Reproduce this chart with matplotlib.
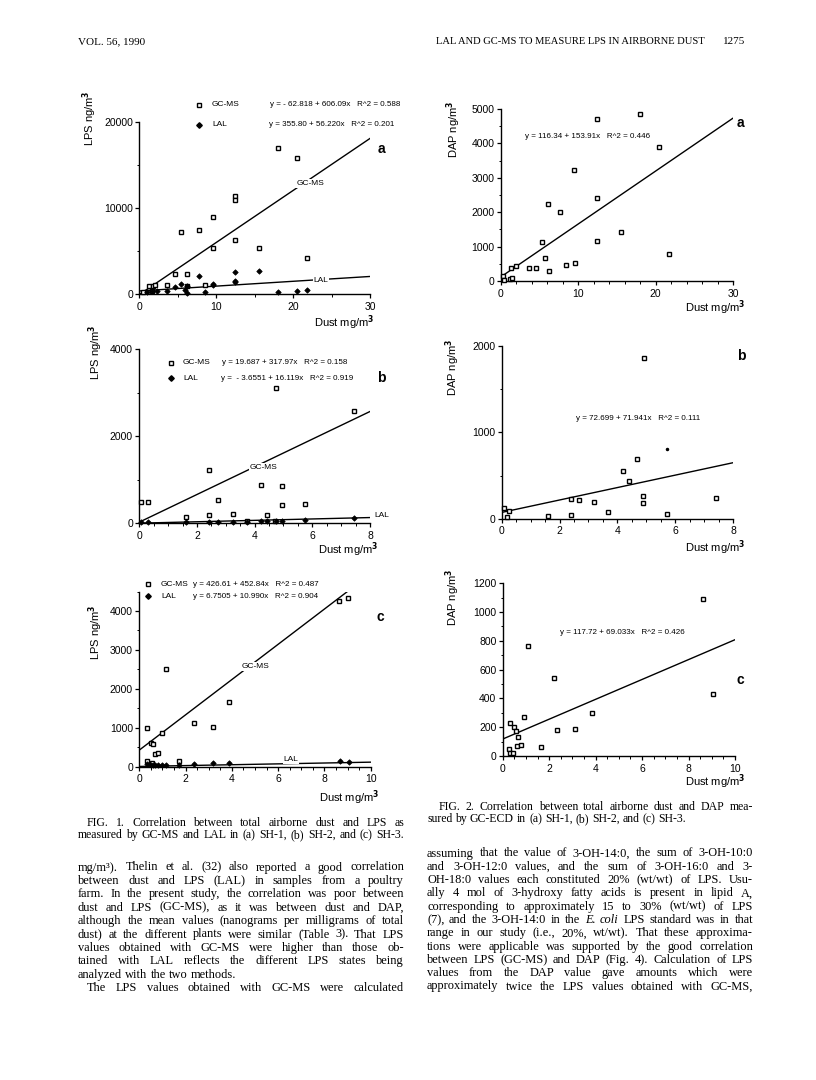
import matplotlib
matplotlib.use("Agg")
import matplotlib.pyplot as plt
import numpy as np
from matplotlib.font_manager import FontProperties
from matplotlib.lines import Line2D
from matplotlib.ticker import MultipleLocator

W, H = 816, 1080
SANS = "Liberation Sans"
SERIF = "Liberation Serif"

# ---------------- data ----------------
# Fig. 1a  SH-1, LPS (ng/m3) vs dust (mg/m3)
dust_1a_gcms = [18.1, 20.5, 12.4, 12.5, 9.6, 7.8, 5.4, 12.4, 9.6, 15.6, 21.8, 4.6, 6.2,
                8.5, 3.6, 1.3, 1.8, 2.0, 0.5, 1.6, 6.2]
lps_1a_gcms = [17050, 15890, 11360, 10970, 8950, 7480, 7210, 6280, 5310, 5350, 4150, 2330, 2330,
               1010, 1010, 890, 890, 1000, 270, 300, 890]
dust_1a_lal = [18.1, 20.5, 21.8, 15.6, 12.5, 12.4, 12.5, 7.7, 9.6, 9.6, 5.4, 4.6, 6.2,
               3.6, 8.5, 5.9, 6.2, 1.0, 1.6, 2.3]
lps_1a_lal = [270, 350, 430, 2640, 2560, 1470, 1360, 2050, 1200, 1000, 1200, 810, 970,
              390, 190, 500, 120, 230, 390, 310]
fit_1a_gcms = (-62.818, 606.09)
fit_1a_lal = (355.80, 56.220)

# Fig. 1b  SH-2
dust_1b_gcms = [4.73, 7.45, 2.42, 4.23, 4.94, 2.72, 0.06, 0.29, 4.94, 5.75, 1.62, 2.42, 3.24,
                4.44, 3.72, 4.70]
lps_1b_gcms = [3097, 2585, 1216, 880, 841, 520, 474, 490, 405, 436, 138, 176, 214,
               176, 46, 54]
dust_1b_lal = [7.45, 5.75, 4.94, 4.44, 4.23, 4.73, 3.72, 3.24, 2.72, 2.42, 1.62, 0.06, 0.29]
lps_1b_lal = [107, 76, 38, 38, 54, 54, 31, 23, 23, 23, 23, 15, 23]
fit_1b_gcms = (19.687, 317.97)
fit_1b_lal = (-3.6551, 16.119)

# Fig. 1c  SH-3
dust_1c_gcms = [9.03, 8.65, 1.15, 3.89, 2.38, 3.17, 0.35, 0.98, 0.49, 0.61, 0.69, 0.82,
                0.32, 1.70, 0.53]
lps_1c_gcms = [4342, 4257, 2501, 1653, 1131, 1028, 985, 874, 617, 574, 317, 343,
               154, 137, 86]
dust_1c_lal = [8.67, 9.08, 3.89, 3.17, 2.38, 1.70, 0.32, 0.49, 0.61, 0.82, 0.98, 1.15, 0.69]
lps_1c_lal = [146, 128, 103, 86, 69, 51, 69, 45, 45, 40, 40, 40, 35]
fit_1c_gcms = (426.61, 452.84)
fit_1c_lal = (6.7505, 10.990)

# Fig. 2a-c  DAP (ng/m3) vs dust (mg/m3)
dust_2a = [17.96, 12.38, 20.41, 9.50, 12.38, 6.06, 7.65, 15.6, 5.37, 12.38, 21.79, 5.76,
           9.58, 8.47, 2.02, 1.29, 3.61, 4.60, 6.27, 0.34, 0.43, 1.2, 1.5]
dap_2a = [4855, 4700, 3907, 3240, 2427, 2244, 1992, 1431, 1122, 1170, 783, 658,
          532, 464, 445, 368, 368, 387, 290, 135, 39, 68, 97]
fit_2a = (116.34, 153.91)

dust_2b = [4.92, 4.68, 4.18, 4.40, 4.89, 4.89, 7.40, 2.38, 2.68, 3.19, 3.67, 5.70,
           1.59, 2.39, 0.08, 0.25, 0.17]
dap_2b = [1857, 691, 556, 440, 266, 178, 243, 228, 212, 189, 73, 58,
          31, 39, 120, 89, 15]
dust_2b_dot = [5.70]
dap_2b_dot = [803]
fit_2b = (72.699, 71.941)

dust_2c = [8.64, 9.04, 1.10, 2.22, 3.83, 0.93, 3.13, 2.35, 0.32, 0.49, 0.57, 0.65,
           0.63, 0.77, 1.65, 0.27, 0.32, 0.43]
dap_2c = [1091, 429, 764, 544, 299, 269, 188, 181, 227, 199, 176, 134,
          70, 76, 65, 46, 23, 23]
fit_2c = (117.72, 69.033)

caption_1 = [
    "FIG. 1. Correlation between total airborne dust and LPS as",
    "measured by GC-MS and LAL in (a) SH-1, (b) SH-2, and (c) SH-3.",
]
body_left = [
    "mg/m³). Thelin et al. (32) also reported a good correlation",
    "between dust and LPS (LAL) in samples from a poultry",
    "farm. In the present study, the correlation was poor between",
    "dust and LPS (GC-MS), as it was between dust and DAP,",
    "although the mean values (nanograms per milligrams of total",
    "dust) at the different plants were similar (Table 3). That LPS",
    "values obtained with GC-MS were higher than those ob-",
    "tained with LAL reflects the different LPS states being",
    "analyzed with the two methods.",
    "The LPS values obtained with GC-MS were calculated",
]
caption_2 = [
    "FIG. 2. Correlation between total airborne dust and DAP mea-",
    "sured by GC-ECD in (a) SH-1, (b) SH-2, and (c) SH-3.",
]
body_right = [
    "assuming that the value of 3-OH-14:0, the sum of 3-OH-10:0",
    "and 3-OH-12:0 values, and the sum of 3-OH-16:0 and 3-",
    "OH-18:0 values each constituted 20% (wt/wt) of LPS. Usu-",
    "ally 4 mol of 3-hydroxy fatty acids is present in lipid A,",
    "corresponding to approximately 15 to 30% (wt/wt) of LPS",
    "(7), and the 3-OH-14:0 in the *E.* *coli* LPS standard was in that",
    "range in our study (i.e., 20%, wt/wt). That these approxima-",
    "tions were applicable was supported by the good correlation",
    "between LPS (GC-MS) and DAP (Fig. 4). Calculation of LPS",
    "values from the DAP value gave amounts which were",
    "approximately twice the LPS values obtained with GC-MS,",
]

# ---------------- helpers (page pixels -> figure fractions) ----------------
fig = plt.figure(figsize=(W / 100, H / 100), dpi=100)
fig.patch.set_facecolor("white")


def fpos(x, y):
    return x / W, 1 - y / H


def ftext(x, y, s, **kw):
    kw.setdefault("va", "center")
    kw.setdefault("family", SANS)
    fig.text(*fpos(x, y), s, **kw)


def fmarker(x, y, marker, **kw):
    fx, fy = fpos(x, y)
    fig.add_artist(Line2D([fx], [fy], marker=marker, linestyle="none", **kw))


def make_axes(left, right, bottom, top, xlim, ylim, xmaj, xmin, ymaj, ymin):
    ax = fig.add_axes([left / W, 1 - bottom / H, (right - left) / W, (bottom - top) / H])
    ax.set_xlim(*xlim)
    ax.set_ylim(*ylim)
    for s in ("top", "right"):
        ax.spines[s].set_visible(False)
    for s in ("left", "bottom"):
        ax.spines[s].set_linewidth(1.0)
    ax.xaxis.set_major_locator(MultipleLocator(xmaj))
    ax.xaxis.set_minor_locator(MultipleLocator(xmin))
    ax.yaxis.set_major_locator(MultipleLocator(ymaj))
    ax.yaxis.set_minor_locator(MultipleLocator(ymin))
    ax.tick_params(which="major", length=3, width=0.9, labelsize=7.5)
    ax.tick_params(which="minor", length=1.8, width=0.7)
    ax.tick_params(axis="x", pad=2.5)
    ax.tick_params(axis="y", pad=1.5)
    for lab in ax.get_xticklabels() + ax.get_yticklabels():
        lab.set_family(SANS)
    return ax


def fit_line(ax, fit, xmax, lw=1.0):
    xs = np.array([0.0, xmax])
    ax.plot(xs, fit[0] + fit[1] * xs, color="black", lw=lw, zorder=2)


def on_line_label(ax, x, y, s):
    ax.text(x, y, s, fontsize=6, family=SANS, ha="center", va="center", zorder=3,
            bbox=dict(fc="white", ec="none", pad=0.6))


def squares(ax, xs, ys):
    ax.plot(xs, ys, "s", ms=3.4, mfc="white", mec="black", mew=1.0, zorder=4,
            clip_on=False)


def diamonds(ax, xs, ys):
    ax.plot(xs, ys, "D", ms=2.8, mfc="black", mec="black", mew=0.5, zorder=5,
            clip_on=False)


DUST = r"Dust mg/m$^{\mathbf{3}}$"
LPS = r"LPS ng/m$^{\mathbf{3}}$"
DAP = r"DAP ng/m$^{\mathbf{3}}$"

# ---------------- Fig. 1a ----------------
ax = make_axes(139.3, 370, 294, 122.3, (0, 30), (0, 20000), 10, 5, 10000, 5000)
fit_line(ax, fit_1a_gcms, 30)
fit_line(ax, fit_1a_lal, 30)
squares(ax, dust_1a_gcms, lps_1a_gcms)
diamonds(ax, dust_1a_lal, lps_1a_lal)
on_line_label(ax, 22.2, 12900, "GC-MS")
on_line_label(ax, 23.6, 1600, "LAL")
fmarker(199, 105, "s", ms=3.4, mfc="white", mec="black", mew=1.0)
ftext(212, 105, "GC-MS", fontsize=6)
ftext(270, 105, "y = - 62.818 + 606.09x   R^2 = 0.588", fontsize=5.8)
fmarker(199, 125, "D", ms=2.8, mfc="black", mec="black")
ftext(212, 125, "LAL", fontsize=6)
ftext(269, 125, "y = 355.80 + 56.220x   R^2 = 0.201", fontsize=5.8)
ftext(381, 149, "a", fontsize=10, weight="bold", ha="center")
ftext(375, 323, DUST, fontsize=8, ha="right")
ftext(90, 118, LPS, fontsize=8, ha="center", rotation=90)

# ---------------- Fig. 1b ----------------
ax = make_axes(139.3, 370, 523, 349, (0, 8), (0, 4000), 2, 0.5, 2000, 1000)
fit_line(ax, fit_1b_gcms, 8)
fit_line(ax, fit_1b_lal, 8)
squares(ax, dust_1b_gcms, lps_1b_gcms)
diamonds(ax, dust_1b_lal, lps_1b_lal)
on_line_label(ax, 4.3, 1270, "GC-MS")
ax.text(8.4, 170, "LAL", fontsize=6, family=SANS, ha="center", va="center",
        clip_on=False)
fmarker(171, 363, "s", ms=3.4, mfc="white", mec="black", mew=1.0)
ftext(183, 363, "GC-MS", fontsize=6)
ftext(222, 363, "y = 19.687 + 317.97x   R^2 = 0.158", fontsize=5.8)
fmarker(171, 378, "D", ms=2.8, mfc="black", mec="black")
ftext(183, 378, "LAL", fontsize=6)
ftext(221, 378, "y =  - 3.6551 + 16.119x   R^2 = 0.919", fontsize=5.8)
ftext(381, 378, "b", fontsize=10, weight="bold", ha="center")
ftext(379, 550, DUST, fontsize=8, ha="right")
ftext(96, 352, LPS, fontsize=8, ha="center", rotation=90)

# ---------------- Fig. 1c ----------------
ax = make_axes(139.3, 370.7, 766.7, 591.5, (0, 10), (0, 4500), 2, 0.5, 1000, 500)
fit_line(ax, fit_1c_gcms, 10)
fit_line(ax, fit_1c_lal, 10)
squares(ax, dust_1c_gcms, lps_1c_gcms)
diamonds(ax, dust_1c_lal, lps_1c_lal)
on_line_label(ax, 5.0, 2570, "GC-MS")
on_line_label(ax, 6.55, 180, "LAL")
fmarker(148, 584, "s", ms=3.4, mfc="white", mec="black", mew=1.0)
ftext(161, 584, "GC-MS", fontsize=6)
ftext(193, 584, "y = 426.61 + 452.84x   R^2 = 0.487", fontsize=5.8)
fmarker(148, 596, "D", ms=2.8, mfc="black", mec="black")
ftext(161, 596, "LAL", fontsize=6)
ftext(193, 596, "y = 6.7505 + 10.990x   R^2 = 0.904", fontsize=5.8)
ftext(380, 617, "c", fontsize=10, weight="bold", ha="center")
ftext(380, 798, DUST, fontsize=8, ha="right")
ftext(96, 632, LPS, fontsize=8, ha="center", rotation=90)

# ---------------- Fig. 2a ----------------
ax = make_axes(500.7, 733, 281, 109, (0, 30), (0, 5000), 10, 2, 1000, 500)
fit_line(ax, fit_2a, 30)
squares(ax, dust_2a, dap_2a)
ftext(525, 137, "y = 116.34 + 153.91x   R^2 = 0.446", fontsize=5.8)
ftext(740, 123, "a", fontsize=10, weight="bold", ha="center")
ftext(746, 308, DUST, fontsize=8, ha="right")
ftext(454, 129, DAP, fontsize=8, ha="center", rotation=90)

# ---------------- Fig. 2b ----------------
ax = make_axes(501.7, 733, 518.7, 346, (0, 8), (0, 2000), 2, 0.5, 1000, 500)
fit_line(ax, fit_2b, 8)
squares(ax, dust_2b, dap_2b)
ax.plot(dust_2b_dot, dap_2b_dot, "o", ms=1.5, color="black")
ftext(576, 419, "y = 72.699 + 71.941x   R^2 = 0.111", fontsize=5.8)
ftext(741, 356, "b", fontsize=10, weight="bold", ha="center")
ftext(746, 548, DUST, fontsize=8, ha="right")
ftext(453, 367, DAP, fontsize=8, ha="center", rotation=90)

# ---------------- Fig. 2c ----------------
ax = make_axes(502.7, 735, 756, 583.3, (0, 10), (0, 1200), 2, 0.5, 200, 100)
fit_line(ax, fit_2c, 10)
squares(ax, dust_2c, dap_2c)
ftext(560, 633, "y = 117.72 + 69.033x   R^2 = 0.426", fontsize=5.8)
ftext(740, 680, "c", fontsize=10, weight="bold", ha="center")
ftext(746, 782, DUST, fontsize=8, ha="right")
ftext(453, 597, DAP, fontsize=8, ha="center", rotation=90)

# ---------------- page text ----------------
renderer = fig.canvas.get_renderer()


def justify(line, x0, x1, y, size, indent=0, full=True):
    words = line.split()
    items = []
    for w in words:
        style = "normal"
        if w.startswith("*") and w.endswith("*"):
            w, style = w.strip("*"), "italic"
        fp = FontProperties(family=SERIF, size=size, style=style)
        wpx = renderer.get_text_width_height_descent(w, fp, ismath=False)[0]
        items.append((w, fp, wpx))
    fp0 = FontProperties(family=SERIF, size=size)
    space = (renderer.get_text_width_height_descent("a a", fp0, ismath=False)[0]
             - renderer.get_text_width_height_descent("aa", fp0, ismath=False)[0])
    total = sum(i[2] for i in items)
    x = x0 + indent
    gap = (x1 - x - total) / (len(items) - 1) if full and len(items) > 1 else space
    for w, fp, wpx in items:
        fig.text(*fpos(x, y), w, fontproperties=fp, va="baseline", ha="left")
        x += wpx + gap


cap_size, body_size = 8.5, 8.9
for k, line in enumerate(caption_1):
    justify(line, 78, 404, 826 + k * 11.8, cap_size, indent=9 if k == 0 else 0)
for k, line in enumerate(body_left):
    justify(line, 78, 404, 870.5 + k * 13.4, body_size,
            indent=9 if k == 9 else 0, full=(k != 8))
for k, line in enumerate(caption_2):
    justify(line, 427, 753, 810 + k * 11.8, cap_size, indent=12 if k == 0 else 0,
            full=(k == 0))
for k, line in enumerate(body_right):
    justify(line, 427, 753, 856.5 + k * 13.3, body_size)

ftext(78, 42, "VOL. 56, 1990", fontsize=8, family=SERIF, ha="left")
ftext(705, 42, "LAL AND GC-MS TO MEASURE LPS IN AIRBORNE DUST", fontsize=7.6,
      family=SERIF, ha="right")
ftext(745, 42, "1275", fontsize=8, family=SERIF, ha="right")

fig.savefig("out.png", dpi=100, facecolor="white")
